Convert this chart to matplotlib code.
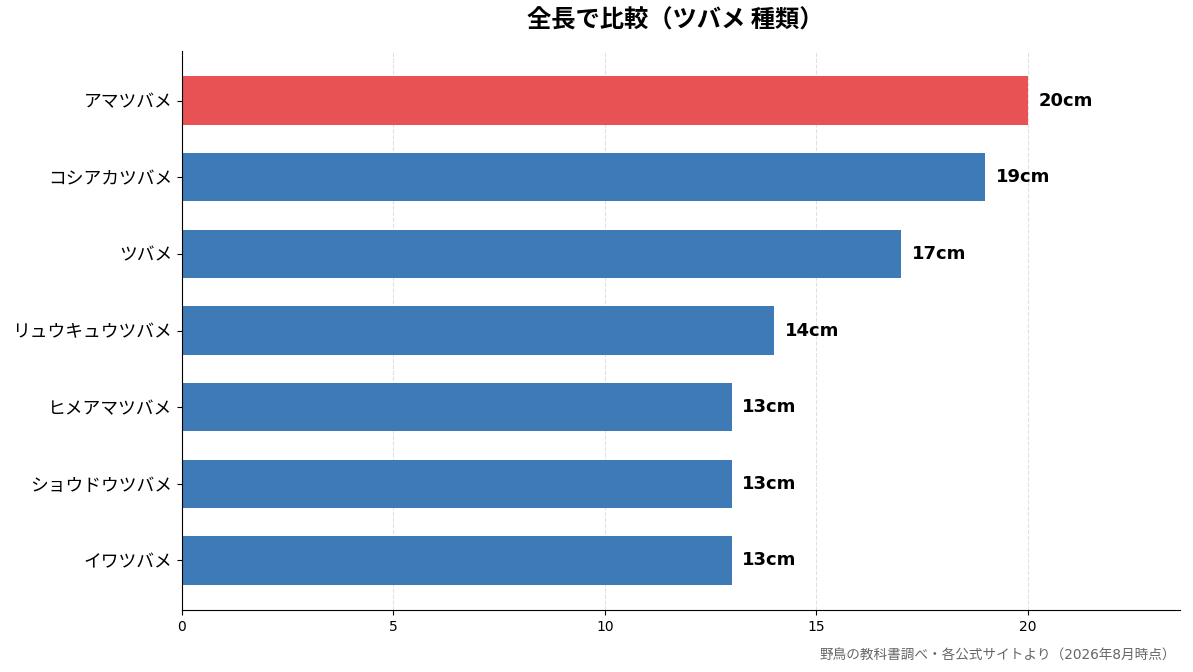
import matplotlib
matplotlib.use("Agg")
import matplotlib.pyplot as plt

plt.rcParams['font.family'] = ['DejaVu Sans', 'Noto Sans CJK JP']

species = ["アマツバメ", "コシアカツバメ", "ツバメ", "リュウキュウツバメ",
           "ヒメアマツバメ", "ショウドウツバメ", "イワツバメ"]
lengths = [20, 19, 17, 14, 13, 13, 13]
labels = ["20cm", "19cm", "17cm", "14cm", "13cm", "13cm", "13cm"]
highlight = "アマツバメ"

red = "#E85254"
blue = "#3E7AB5"
colors = [red if s == highlight else blue for s in species]

fig = plt.figure(figsize=(11.93, 6.72), dpi=100)
ax = fig.add_axes([182/1193, 1 - 610/672, (1180-182)/1193, (610-51)/672])

y = list(range(len(species)))
ax.barh(y, lengths, height=0.63, color=colors, zorder=2)
ax.set_yticks(y)
ax.set_yticklabels(species, fontsize=12.8, family=['Noto Sans CJK JP', 'DejaVu Sans'])
ax.set_ylim(len(species) - 1 + 0.646, -0.646)
ax.set_xlim(0, 23.6)
ax.set_xticks([0, 5, 10, 15, 20])
ax.tick_params(axis='x', labelsize=10)

for yi, v, lab in zip(y, lengths, labels):
    ax.text(v + 0.25, yi, lab, va='center', ha='left', fontsize=13, fontweight='bold')

ax.grid(axis='x', linestyle='--', color='#e0e0e0', linewidth=0.8, zorder=0)
ax.set_axisbelow(True)
for s in ['top', 'right']:
    ax.spines[s].set_visible(False)

fig.text(0.5*(182+1180)/1193 - 6/1193, 1 - 21/672, "全長で比較（ツバメ 種類）", ha='center', va='center',
         fontsize=17.5, fontweight='bold', family=['Noto Sans CJK JP', 'DejaVu Sans'])
fig.text(1176/1193, 1 - 655/672, "野鳥の教科書調べ・各公式サイトより（2026年8月時点）",
         ha='right', va='center', fontsize=9.8, color='#666666')

fig.savefig("out.png", dpi=100)
